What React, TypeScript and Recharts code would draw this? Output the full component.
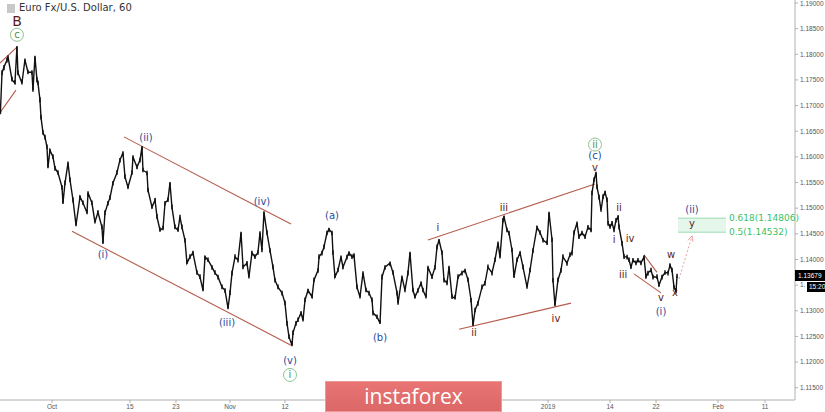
import React from "react";
import {
  ComposedChart,
  Line,
  ErrorBar,
  XAxis,
  YAxis,
  ReferenceLine,
  ReferenceArea,
  ReferenceDot,
} from "recharts";

// trading days since 1 Oct 2018 (fractional)
const days = [
  -6.7, -6.49, -6.23, -5.84, -5.71, -5.19, -4.81, -4.55, -4.42, -3.9, -3.51, -3.12, -2.6, -2.47, -2.21, -1.95,
  -1.82, -1.56, -1.43, -1.17, -0.91, -0.65, -0.52, -0.26, 0.13, 0.39, 0.78, 1.3, 1.43, 1.69, 2.08, 2.34, 2.73,
  3.12, 3.64, 4.03, 4.55, 4.68, 5.19, 5.58, 5.97, 6.49, 6.62, 6.88, 7.27, 7.53, 7.92, 8.44, 8.83, 9.22, 9.48,
  9.87, 10.39, 10.52, 11.04, 11.43, 11.69, 11.82, 12.34, 12.47, 12.99, 13.38, 13.64, 14.03, 14.42, 14.68, 15.06,
  15.32, 15.58, 15.97, 16.36, 16.62, 16.88, 17.27, 17.53, 17.92, 18.31, 18.83, 19.22, 19.61, 19.87, 20.26, 20.78,
  21.17, 21.56, 22.08, 22.47, 22.86, 23.12, 23.38, 23.77, 24.16, 24.55, 24.81, 25.32, 25.58, 25.97, 26.36, 26.75,
  27.01, 27.27, 27.53, 27.92, 28.31, 28.7, 28.96, 29.35, 29.87, 30.26, 30.52, 30.78, 31.17, 31.3, 31.69, 31.95,
  32.34, 32.6, 32.86, 33.25, 33.77, 34.03, 34.55, 34.68, 35.06, 35.32, 35.71, 35.97, 36.36, 36.49, 36.75, 37.14,
  37.53, 37.79, 38.31, 38.57, 38.96, 39.22, 39.61, 40.0, 40.39, 40.78, 41.17, 41.56, 41.69, 42.21, 42.6, 42.86,
  43.25, 43.9, 44.29, 44.81, 44.94, 45.45, 45.84, 46.23, 46.49, 46.88, 47.14, 47.53, 47.92, 48.18, 48.57, 48.83,
  49.35, 49.74, 50.0, 50.26, 50.65, 50.91, 51.3, 51.56, 51.95, 52.34, 52.73, 53.25, 53.64, 54.03, 54.42, 54.68,
  54.94, 55.32, 55.84, 56.23, 56.62, 57.14, 57.53, 57.92, 58.18, 58.57, 58.7, 59.09, 59.35, 59.74, 60.0, 60.39,
  60.78, 61.17, 61.69, 62.08, 62.47, 62.99, 63.38, 63.77, 64.29, 64.55, 64.94, 65.06, 65.32, 65.71, 66.1, 66.36,
  66.88, 67.27, 67.53, 67.79, 68.18, 68.44, 68.83, 69.22, 69.61, 70.0, 70.13, 70.39, 70.65, 70.78, 71.04, 71.3,
  71.56, 71.82, 72.08, 72.21, 72.47, 72.73, 72.99, 73.25, 73.51, 73.64, 74.03, 74.29, 74.68, 74.94, 75.19, 75.45,
  75.84, 76.1, 76.49, 76.88, 77.14, 77.4, 77.79, 78.05, 78.57, 78.83, 79.22, 79.61, 80.0, 80.26, 80.52, 80.78,
  81.04, 81.17,
];

// EUR/USD closes
const closes = [
  1.1686, 1.1764, 1.1775, 1.1789, 1.1795, 1.175, 1.1744, 1.1814, 1.1764, 1.1744, 1.1789, 1.1765, 1.1765, 1.173,
  1.1795, 1.175, 1.1744, 1.1711, 1.1678, 1.1647, 1.1639, 1.1619, 1.158, 1.1613, 1.16, 1.1578, 1.1569, 1.1541,
  1.151, 1.1549, 1.1588, 1.1555, 1.1516, 1.1467, 1.1522, 1.151, 1.1491, 1.153, 1.151, 1.1473, 1.1492, 1.1463,
  1.1432, 1.1491, 1.151, 1.152, 1.1549, 1.1569, 1.1594, 1.1608, 1.1561, 1.1541, 1.1569, 1.16, 1.158, 1.1594,
  1.1619, 1.1574, 1.1569, 1.1535, 1.1502, 1.1516, 1.1483, 1.1457, 1.1461, 1.151, 1.1516, 1.1549, 1.1502, 1.1463,
  1.1457, 1.1483, 1.1463, 1.1438, 1.1393, 1.1405, 1.1413, 1.1374, 1.1366, 1.134, 1.1405, 1.1399, 1.1385, 1.1374,
  1.1366, 1.1346, 1.134, 1.1305, 1.1335, 1.1374, 1.1405, 1.1399, 1.1452, 1.1385, 1.1393, 1.1366, 1.1413, 1.1405,
  1.1414, 1.1452, 1.1418, 1.1492, 1.1452, 1.1418, 1.1385, 1.136, 1.1346, 1.1335, 1.1315, 1.1276, 1.1249, 1.1233,
  1.1257, 1.1276, 1.1282, 1.1296, 1.1282, 1.1321, 1.134, 1.1327, 1.136, 1.1379, 1.1405, 1.1413, 1.1424, 1.1452,
  1.1459, 1.1452, 1.1413, 1.1366, 1.1379, 1.1405, 1.1385, 1.1405, 1.1413, 1.1405, 1.1408, 1.1346, 1.1327, 1.1374,
  1.134, 1.1335, 1.1321, 1.1296, 1.1288, 1.1276, 1.1366, 1.1385, 1.1393, 1.1374, 1.1335, 1.1315, 1.1366, 1.134,
  1.1374, 1.1413, 1.134, 1.1327, 1.134, 1.1354, 1.134, 1.1327, 1.1385, 1.1366, 1.1385, 1.1424, 1.1438, 1.1413,
  1.136, 1.1354, 1.1385, 1.1327, 1.1325, 1.1366, 1.1374, 1.1379, 1.136, 1.1321, 1.1272, 1.1301, 1.1315, 1.1346,
  1.1354, 1.1385, 1.1374, 1.1399, 1.1432, 1.1405, 1.1477, 1.1483, 1.1457, 1.1452, 1.1418, 1.1366, 1.1399, 1.1413,
  1.1385, 1.1346, 1.1379, 1.1418, 1.1463, 1.1452, 1.1438, 1.1432, 1.1491, 1.1438, 1.136, 1.1311, 1.136, 1.1379,
  1.1405, 1.1393, 1.1409, 1.1413, 1.1452, 1.1471, 1.1444, 1.1452, 1.1444, 1.1463, 1.1457, 1.153, 1.1555, 1.1569,
  1.1541, 1.1522, 1.1496, 1.1522, 1.1531, 1.1516, 1.1471, 1.1463, 1.1471, 1.1457, 1.1477, 1.1483, 1.1463, 1.1432,
  1.1405, 1.1405, 1.1399, 1.1385, 1.1399, 1.1393, 1.1399, 1.1393, 1.1405, 1.1366, 1.1374, 1.1379, 1.1366, 1.1366,
  1.135, 1.1366, 1.1374, 1.1374, 1.1389, 1.1379, 1.1346, 1.1338, 1.1368,
];

// wick lengths above / below each close, in pips
const upperWicks = [
  6, 5, 4, 4, 3, 6, 6, 2, 5, 7, 3, 5, 4, 7, 2, 5, 5, 5, 4, 5,
  4, 5, 7, 3, 5, 4, 5, 4, 7, 5, 3, 5, 5, 8, 3, 5, 6, 3, 5, 6,
  4, 5, 8, 5, 4, 5, 4, 5, 4, 3, 5, 6, 5, 3, 5, 4, 2, 5, 4, 5,
  6, 4, 5, 6, 5, 4, 5, 2, 5, 5, 6, 4, 5, 4, 7, 5, 4, 5, 5, 7,
  3, 5, 4, 5, 4, 5, 4, 7, 5, 4, 5, 4, 2, 5, 4, 6, 4, 5, 4, 3,
  5, 2, 5, 4, 5, 4, 5, 4, 5, 4, 5, 8, 5, 4, 5, 3, 6, 5, 3, 6,
  5, 4, 5, 4, 5, 4, 3, 4, 5, 7, 5, 3, 5, 4, 3, 5, 4, 5, 6, 3,
  5, 4, 5, 4, 5, 6, 5, 4, 3, 5, 4, 6, 3, 5, 4, 2, 5, 6, 4, 3,
  5, 6, 3, 5, 4, 5, 2, 5, 4, 5, 3, 5, 6, 5, 4, 3, 5, 4, 7, 5,
  4, 5, 4, 5, 4, 5, 3, 6, 4, 2, 5, 4, 5, 7, 5, 3, 5, 6, 5, 4,
  3, 5, 4, 5, 2, 5, 4, 7, 5, 4, 5, 4, 5, 4, 5, 3, 5, 4, 5, 4,
  5, 4, 5, 2, 5, 4, 6, 5, 3, 5, 4, 6, 4, 5, 4, 3, 5, 4, 5, 4,
  5, 6, 4, 5, 4, 5, 3, 6, 4, 5, 4, 5, 6, 4, 5, 4, 3, 5, 4, 6, 4,
];
const lowerWicks = [
  3, 5, 6, 5, 6, 3, 3, 8, 5, 3, 6, 4, 5, 3, 7, 5, 4, 5, 5, 4,
  5, 4, 2, 6, 4, 5, 4, 5, 2, 4, 7, 4, 5, 2, 6, 4, 3, 6, 4, 3,
  5, 4, 2, 5, 5, 4, 5, 4, 5, 7, 4, 3, 4, 6, 4, 5, 7, 4, 5, 4,
  3, 5, 4, 3, 4, 5, 4, 7, 4, 4, 3, 5, 4, 5, 2, 4, 5, 4, 4, 2,
  6, 4, 5, 4, 5, 4, 5, 2, 4, 5, 4, 5, 7, 4, 5, 3, 5, 4, 5, 6,
  4, 8, 4, 5, 4, 5, 4, 5, 4, 5, 4, 2, 4, 5, 4, 6, 3, 4, 6, 3,
  4, 5, 4, 5, 4, 5, 6, 5, 4, 2, 4, 6, 4, 5, 6, 4, 5, 4, 3, 6,
  4, 5, 4, 5, 4, 2, 5, 5, 6, 4, 5, 3, 6, 4, 5, 7, 4, 3, 5, 6,
  4, 3, 6, 4, 5, 4, 7, 4, 5, 4, 6, 4, 3, 4, 5, 6, 4, 5, 2, 4,
  5, 4, 5, 4, 5, 4, 6, 3, 5, 7, 4, 5, 4, 2, 4, 6, 4, 3, 4, 5,
  6, 4, 5, 4, 7, 4, 5, 2, 4, 5, 4, 5, 4, 5, 4, 6, 4, 5, 4, 5,
  4, 5, 4, 7, 4, 5, 3, 4, 6, 4, 5, 3, 5, 4, 5, 6, 4, 5, 4, 5,
  4, 3, 5, 4, 5, 4, 6, 3, 5, 4, 5, 4, 3, 5, 4, 5, 6, 4, 5, 3, 4,
];

const dateTicks = [0, 10.13, 16.1, 23.12, 30.26, 64.42, 72.47, 78.44, 86.49, 92.6];
const dateLabels = ["Oct", "15", "23", "Nov", "12", "2019", "14", "22", "Feb", "11"];
const priceTicks = [
  1.115, 1.12, 1.125, 1.13, 1.135, 1.14, 1.145, 1.15, 1.155, 1.16, 1.165, 1.17, 1.175, 1.18, 1.185, 1.19,
];
const hiddenTick = 1.135; // covered by the time box, only "1." shows

// trend lines [t1, p1, t2, p2]
const trendLines = [
  [-6.75, 1.1783, -4.55, 1.1814],
  [-6.75, 1.1686, -4.68, 1.173],
  [9.35, 1.1639, 31.04, 1.1469],
  [2.6, 1.1455, 31.04, 1.1233],
  [48.83, 1.1438, 70.52, 1.1547],
  [52.86, 1.1264, 67.4, 1.1315],
  [76.88, 1.1409, 78.57, 1.1375],
  [75.58, 1.1372, 79.09, 1.1335],
];

type Lbl = { t: number; p: number; text: string; kind: "blue" | "red" | "circle" | "big" };
const waveLabels: Lbl[] = [
  { t: -4.55, p: 1.1865, text: "B", kind: "big" },
  { t: -4.55, p: 1.1838, text: "c", kind: "circle" },
  { t: 12.21, p: 1.1637, text: "(ii)", kind: "blue" },
  { t: 6.62, p: 1.1409, text: "(i)", kind: "blue" },
  { t: 22.73, p: 1.1278, text: "(iii)", kind: "blue" },
  { t: 27.27, p: 1.1514, text: "(iv)", kind: "blue" },
  { t: 30.91, p: 1.1204, text: "(v)", kind: "blue" },
  { t: 30.91, p: 1.1175, text: "i", kind: "circle" },
  { t: 36.36, p: 1.1485, text: "(a)", kind: "blue" },
  { t: 42.6, p: 1.1247, text: "(b)", kind: "blue" },
  { t: 50.13, p: 1.1463, text: "i", kind: "red" },
  { t: 54.81, p: 1.1257, text: "ii", kind: "red" },
  { t: 58.7, p: 1.1502, text: "iii", kind: "red" },
  { t: 65.45, p: 1.1284, text: "iv", kind: "red" },
  { t: 70.52, p: 1.1624, text: "ii", kind: "circle" },
  { t: 70.52, p: 1.1602, text: "(c)", kind: "blue" },
  { t: 70.52, p: 1.1579, text: "v", kind: "red" },
  { t: 73.64, p: 1.1502, text: "ii", kind: "red" },
  { t: 72.99, p: 1.1438, text: "i", kind: "red" },
  { t: 75.06, p: 1.144, text: "iv", kind: "red" },
  { t: 74.16, p: 1.137, text: "iii", kind: "red" },
  { t: 80.39, p: 1.1409, text: "w", kind: "red" },
  { t: 80.91, p: 1.1336, text: "x", kind: "red" },
  { t: 79.09, p: 1.1325, text: "v", kind: "red" },
  { t: 79.09, p: 1.1299, text: "(i)", kind: "blue" },
  { t: 83.12, p: 1.1498, text: "(ii)", kind: "blue" },
  { t: 83.12, p: 1.1471, text: "y", kind: "red" },
];

const fibLevels = [
  { p: 1.14806, text: "0.618(1.14806)" },
  { p: 1.14532, text: "0.5(1.14532)" },
];
const fibZone = { t1: 81.3, t2: 87.53, labelT: 87.92 };
const projection = { t1: 81.43, p1: 1.1362, t2: 83.12, p2: 1.1446 };
const lastPrice = 1.13679;
const PIP = 0.0001;

const data = days.map((t, i) => ({
  t,
  c: closes[i],
  wick: [(lowerWicks[i] ?? 0) * PIP, (upperWicks[i] ?? 0) * PIP],
}));

const FONT = "'DejaVu Sans', Verdana, sans-serif";
const colors = { blue: "#2a4c9c", red: "#5c1b1b", circle: "#4d8f4d", big: "#5c1b1b" };

function WaveLabel({ cx, cy, l }: { cx: number; cy: number; l: Lbl }) {
  if (cx == null || cy == null) return null;
  return (
    <g>
      {l.kind === "circle" && (
        <circle cx={cx} cy={cy} r={6.5} fill="#fff" stroke="#8cc48c" strokeWidth={1} />
      )}
      <text
        x={cx}
        y={cy}
        dy="0.35em"
        textAnchor="middle"
        fontSize={l.kind === "big" ? 14 : 10}
        fontFamily={FONT}
        fill={colors[l.kind]}
      >
        {l.text}
      </text>
    </g>
  );
}

export default function App() {
  const angle = Math.atan2(-43, 13);
  return (
    <div style={{ position: "relative", width: 825, height: 412, background: "#fff", overflow: "hidden" }}>
      <style>{"body{margin:0}"}</style>
      <ComposedChart width={825} height={412} data={data} margin={{ top: 0, right: 0, bottom: 0, left: 0 }}>
        <XAxis
          dataKey="t"
          type="number"
          domain={[-6.75, 96.49]}
          allowDataOverflow
          ticks={dateTicks}
          tickFormatter={(v: number) => dateLabels[dateTicks.indexOf(v)] ?? ""}
          height={12}
          tickSize={3}
          tickMargin={1}
          tick={{ fontSize: 6.5, fill: "#555", fontFamily: "'Liberation Sans', Arial" }}
          axisLine={{ stroke: "#b0b0b0" }}
          tickLine={{ stroke: "#b0b0b0" }}
        />
        <YAxis
          orientation="right"
          type="number"
          domain={[1.11261, 1.19058]}
          allowDataOverflow
          ticks={priceTicks}
          tickFormatter={(v: number) => (v === hiddenTick ? "1." : v.toFixed(5))}
          width={30}
          tickSize={3}
          tickMargin={2}
          tick={{ fontSize: 6.5, fill: "#555", fontFamily: "'Liberation Sans', Arial", textAnchor: "start" }}
          axisLine={{ stroke: "#b0b0b0" }}
          tickLine={{ stroke: "#b0b0b0" }}
        />
        <ReferenceArea
          x1={fibZone.t1}
          x2={fibZone.t2}
          y1={fibLevels[1].p}
          y2={fibLevels[0].p}
          fill="#e4f7ea"
          fillOpacity={1}
          stroke="none"
          ifOverflow="visible"
        />
        {fibLevels.map((f) => (
          <ReferenceLine
            key={f.text}
            segment={[
              { x: fibZone.t1, y: f.p },
              { x: fibZone.t2, y: f.p },
            ]}
            stroke="#9adbb0"
            strokeWidth={1}
            ifOverflow="visible"
          />
        ))}
        {trendLines.map((s, i) => (
          <ReferenceLine
            key={"tl" + i}
            segment={[
              { x: s[0], y: s[1] },
              { x: s[2], y: s[3] },
            ]}
            stroke="#b55c4c"
            strokeWidth={1.1}
            ifOverflow="visible"
          />
        ))}
        <ReferenceLine
          segment={[
            { x: projection.t1, y: projection.p1 },
            { x: projection.t2, y: projection.p2 },
          ]}
          stroke="#e8a2a2"
          strokeDasharray="2 2"
          strokeWidth={1}
          ifOverflow="visible"
        />
        <ReferenceDot
          x={projection.t2}
          y={projection.p2}
          r={1}
          ifOverflow="visible"
          shape={(p: any) => {
            const a1 = angle + Math.PI - 0.45;
            const a2 = angle + Math.PI + 0.45;
            const L = 6;
            return (
              <path
                d={`M${p.cx + L * Math.cos(a1)},${p.cy + L * Math.sin(a1)} L${p.cx},${p.cy} L${p.cx + L * Math.cos(a2)},${p.cy + L * Math.sin(a2)}`}
                fill="none"
                stroke="#e8a2a2"
                strokeWidth={1}
              />
            );
          }}
        />
        <Line
          type="linear"
          dataKey="c"
          stroke="#111"
          strokeWidth={1.4}
          dot={false}
          activeDot={false}
          isAnimationActive={false}
        >
          <ErrorBar dataKey="wick" direction="y" width={0} stroke="#222" strokeWidth={1.6} isAnimationActive={false} />
        </Line>
        {waveLabels.map((l, i) => (
          <ReferenceDot
            key={"wl" + i}
            x={l.t}
            y={l.p}
            r={1}
            ifOverflow="visible"
            shape={(p: any) => <WaveLabel cx={p.cx} cy={p.cy} l={l} />}
          />
        ))}
        {fibLevels.map((f) => (
          <ReferenceDot
            key={"fl" + f.text}
            x={fibZone.labelT}
            y={f.p}
            r={1}
            ifOverflow="visible"
            shape={(p: any) => (
              <text x={p.cx} y={p.cy} dy="0.35em" fontSize={9} fontFamily={FONT} fill="#3cbf64">
                {f.text}
              </text>
            )}
          />
        ))}
      </ComposedChart>

      <div style={{ position: "absolute", left: 7, top: 4, width: 8, height: 9, background: "#c8c8c8" }} />
      <div
        style={{
          position: "absolute",
          left: 19,
          top: 2,
          fontSize: 10,
          fontFamily: FONT,
          color: "#333",
          whiteSpace: "nowrap",
        }}
      >
        Euro Fx/U.S. Dollar, 60
      </div>

      <div
        style={{
          position: "absolute",
          left: 795,
          top: 270,
          width: 30,
          height: 11,
          background: "#000",
          color: "#fff",
          fontSize: 6.5,
          lineHeight: "11px",
          fontFamily: "'Liberation Sans', Arial",
          paddingLeft: 3,
          boxSizing: "border-box",
        }}
      >
        {lastPrice.toFixed(5)}
      </div>
      <div
        style={{
          position: "absolute",
          left: 807,
          top: 282,
          width: 18,
          height: 10,
          background: "#000",
          color: "#fff",
          fontSize: 6.5,
          lineHeight: "10px",
          fontFamily: "'Liberation Sans', Arial",
          paddingLeft: 2,
          boxSizing: "border-box",
        }}
      >
        15:20
      </div>

      <div
        style={{
          position: "absolute",
          left: 325,
          top: 381,
          width: 177,
          height: 31,
          background: "linear-gradient(#e87474, #dc6767)",
          border: "1px solid #e99",
          boxSizing: "border-box",
          color: "#fff",
          fontSize: 21,
          fontFamily: "'Open Sans', sans-serif",
          textAlign: "center",
          lineHeight: "28px",
        }}
      >
        instaforex
      </div>
    </div>
  );
}
